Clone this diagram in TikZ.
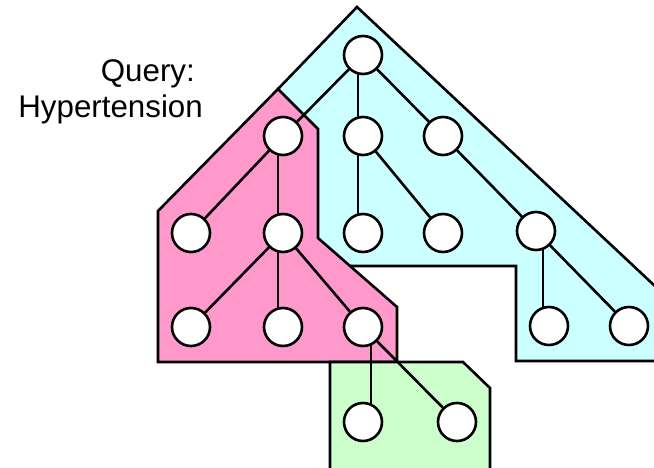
\documentclass[tikz,border=0pt]{standalone}
\usepackage{fontspec}
\setmainfont{Liberation Sans}
\pgfdeclarelayer{bg}
\pgfdeclarelayer{mid}
\pgfsetlayers{bg,mid,main}
\definecolor{cyanfill}{HTML}{CCFFFF}
\definecolor{pinkfill}{HTML}{FF99CC}
\definecolor{greenfill}{HTML}{CCFFCC}
\tikzset{
  region/.style={draw=black, line width=2.6pt, line join=miter},
  treenode/.style={circle, draw=black, fill=white, line width=2.6pt, minimum size=38pt, inner sep=0pt},
  link/.style={draw=black, line width=2.6pt},
  label/.style={font=\fontsize{31.3}{36}\selectfont, inner sep=0pt}
}
\begin{document}
\begin{tikzpicture}[x=1pt,y=-1pt]
\useasboundingbox (0,0) rectangle (654,468);
\clip (0,0) rectangle (654,468);

% tree nodes
\node[treenode] (r) at (363,55) {};
\node[treenode] (a) at (283,136) {};
\node[treenode] (b) at (363,136) {};
\node[treenode] (c) at (443,136) {};
\node[treenode] (d) at (191,233) {};
\node[treenode] (e) at (283,233) {};
\node[treenode] (f) at (363,233) {};
\node[treenode] (g) at (443,233) {};
\node[treenode] (h) at (536,231) {};
\node[treenode] (i) at (191,327) {};
\node[treenode] (j) at (283,327) {};
\node[treenode] (k) at (363,327) {};
\node[treenode] (l) at (549,326) {};
\node[treenode] (m) at (629,326) {};
\node[treenode] (n) at (363,422) {};
\node[treenode] (o) at (457,422) {};

% query label
\node[label, anchor=base east] (q1) at (195,82) {Query:};
\node[label, anchor=base east] (q2) at (203,118) {Hypertension};

% shaded regions
\begin{pgfonlayer}{bg}
  \path[region, fill=cyanfill] (357,7) -- (735,361) -- (516,361) -- (516,266)
        -- (278,266) -- (278,89) -- cycle;
  \path[region, fill=pinkfill] (278,89) -- (318,129) -- (318,238) -- (397,307)
        -- (397,362) -- (158,362) -- (158,211) -- cycle;
  \path[region, fill=greenfill] (330,362) -- (463,362) -- (490,388)
        -- (490,490) -- (330,490) -- cycle;
\end{pgfonlayer}

% tree edges
\begin{pgfonlayer}{mid}
  \draw[link] (r) -- (a);
  \draw[link] ([xshift=-5pt]r.center) -- ([xshift=-5pt]b.center);
  \draw[link] (r) -- (c);
  \draw[link] (a) -- (d);
  \draw[link] ([xshift=-5pt]a.center) -- ([xshift=-5pt]e.center);
  \draw[link] ([xshift=-5pt]b.center) -- ([xshift=-5pt]f.center);
  \draw[link] (b) -- (g);
  \draw[link] (c) -- (h);
  \draw[link] (e) -- (i);
  \draw[link] ([xshift=-5pt]e.center) -- ([xshift=-5pt]j.center);
  \draw[link] (e) -- (k);
  \draw[link] ([xshift=7pt]h.center) -- ([xshift=-6pt]l.center);
  \draw[link] (h) -- (m);
  \draw[link] ([xshift=8pt]k.center) -- ([xshift=8pt]n.center);
  \draw[link] (k) -- (o);
\end{pgfonlayer}
\end{tikzpicture}
\end{document}
